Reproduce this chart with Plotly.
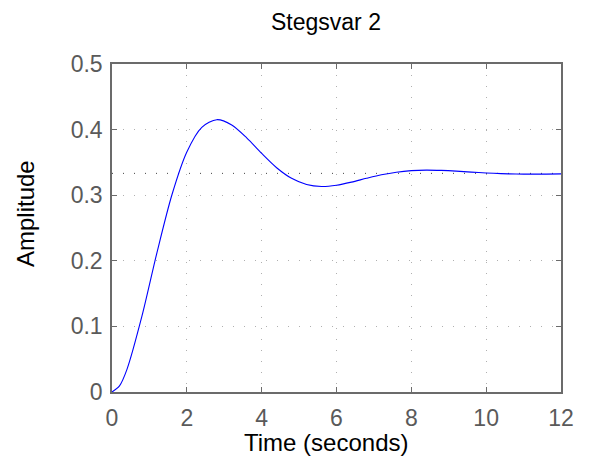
import plotly.graph_objects as go

# Step response samples (time in seconds, amplitude)
time_s = [0.0, 0.2, 0.4, 0.8, 1.2, 1.6, 2.0, 2.4, 2.8, 3.2, 3.6, 4.0, 4.4, 4.8,
          5.2, 5.6, 6.0, 6.4, 6.8, 7.2, 7.6, 8.0, 8.4, 8.8, 9.2, 9.6, 10.0,
          10.4, 10.8, 11.2, 11.6, 12.0]
amplitude = [0.0, 0.0093, 0.0345, 0.1155, 0.2121, 0.3003, 0.3659, 0.4035,
             0.4151, 0.4070, 0.3874, 0.3637, 0.3419, 0.3257, 0.3163, 0.3133,
             0.3152, 0.3199, 0.3257, 0.3311, 0.3351, 0.3375, 0.3383, 0.3378,
             0.3367, 0.3352, 0.3339, 0.3329, 0.3323, 0.3321, 0.3322, 0.3325]

# Steady-state level
steady_x = [0.0, 12.0]
steady_y = [0.3333, 0.3333]

x_ticks = [0, 2, 4, 6, 8, 10, 12]
y_ticks = [0, 0.1, 0.2, 0.3, 0.4, 0.5]
y_tick_text = ["0", "0.1", "0.2", "0.3", "0.4", "0.5"]

FONT = "Liberation Sans, Arial, sans-serif"
AXIS_GRAY = "#6b6b6b"
TICK_GRAY = "#5a5a5a"

fig = go.Figure()

fig.add_trace(go.Scatter(
    x=steady_x, y=steady_y, mode="lines",
    line=dict(color="#444444", width=1, dash="1px,10px"),
    hoverinfo="skip", showlegend=False,
))

fig.add_trace(go.Scatter(
    x=time_s, y=amplitude, mode="lines",
    line=dict(color="#0000ff", width=1.1, shape="spline", smoothing=0.8),
    showlegend=False,
))

axis_common = dict(
    showline=True, linecolor=AXIS_GRAY, linewidth=1.5, mirror="ticks",
    ticks="inside", ticklen=5, tickcolor=AXIS_GRAY, tickwidth=1,
    showgrid=True, gridcolor="#b0b0b0", gridwidth=1, griddash="1px,10px",
    zeroline=False,
    tickfont=dict(family=FONT, size=23, color=TICK_GRAY),
)

fig.update_xaxes(range=[0, 12], tickvals=x_ticks, ticklabelstandoff=5, **axis_common)
fig.update_yaxes(range=[0, 0.5], tickvals=y_ticks, ticktext=y_tick_text,
                 ticklabelstandoff=3, **axis_common)

# Title and axis labels placed as annotations (paper coordinates)
label_font = dict(family=FONT, size=24, color="#000000")
fig.add_annotation(text="Stegsvar 2", xref="paper", yref="paper",
                   x=0.4766, y=1.128, xanchor="center", yanchor="middle",
                   showarrow=False, font=dict(family=FONT, size=23, color="#000000"))
fig.add_annotation(text="Time (seconds)", xref="paper", yref="paper",
                   x=0.4766, y=-0.155, xanchor="center", yanchor="middle",
                   showarrow=False, font=label_font)
fig.add_annotation(text="Amplitude", xref="paper", yref="paper",
                   x=-0.1915, y=0.5427, xanchor="center", yanchor="middle",
                   textangle=-90, showarrow=False, font=label_font)

fig.update_layout(
    width=589, height=466,
    margin=dict(l=112, r=28, t=64, b=74),
    paper_bgcolor="white", plot_bgcolor="white",
)

fig.write_html("out.html")
